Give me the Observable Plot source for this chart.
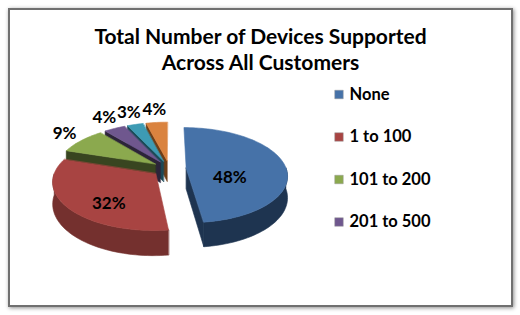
<!DOCTYPE html>
<html><head><meta charset="utf-8">
<script src="https://cdn.jsdelivr.net/npm/d3@7"></script>
<script src="https://cdn.jsdelivr.net/npm/@observablehq/plot@0.6"></script>
<style>
html,body{margin:0;padding:0;background:#fff;width:520px;height:315px;overflow:hidden}
#frame{position:absolute;left:8px;top:8px;width:501px;height:295px;border:2px solid #707070;box-shadow:1px 1px 4px rgba(0,0,0,0.45);background:#fff}
#chart{position:absolute;left:0;top:0}
</style></head><body>
<div id="frame"></div><div id="chart"></div>
<script>
const titleLines = ["Total Number of Devices Supported", "Across All Customers"];
const categories = ["None", "1 to 100", "101 to 200", "201 to 500", "501 to 1000", "Over 1000"];
const percents = [48, 32, 9, 4, 3, 4];
const topColors = ["#4672A8", "#A84442", "#8BA94E", "#6F578E", "#3D9BB4", "#DA833F"];
const wallColors = ["#1E3450", "#74302E", "#384520", "#2C2439", "#1B4A57", "#6E3E17"];
const legendCount = 4;

const W = 520, H = 315;
const cx = 168.7, cy = 168, rx = 100, ry = 46.6, depth = 21, persp = 0.15, explode = 0.17;
const FONT = "Lato, 'Open Sans', sans-serif";
const labelSize = 17;

function proj(u, v, z) {
  const s = 1 / (1 + persp * v);
  return {x: cx + rx * u * s, y: cy - ry * v * s + depth * z * s};
}

const total = d3.sum(percents);
let acc = 0;
const slices = percents.map((p, i) => {
  const a0 = acc / total * 2 * Math.PI;
  acc += p;
  const a1 = acc / total * 2 * Math.PI;
  const mid = (a0 + a1) / 2;
  return {i, p, a0, a1, mid, ou: explode * Math.sin(mid), ov: explode * Math.cos(mid)};
});

function arcPts(s, b0, b1, z, r = 1) {
  const n = Math.max(2, Math.ceil(Math.abs(b1 - b0) / (Math.PI / 90)));
  const pts = [];
  for (let k = 0; k <= n; k++) {
    const a = b0 + (b1 - b0) * k / n;
    pts.push(proj(s.ou + r * Math.sin(a), s.ov + r * Math.cos(a), z));
  }
  return pts;
}

const marks = [];
function poly(pts, color) {
  marks.push(Plot.line(pts, {x: "x", y: "y", fill: color, stroke: color, strokeWidth: 0.6, curve: "linear-closed"}));
}

const order = [...slices].sort((a, b) => b.ov - a.ov);
for (const s of order) {
  const c = proj(s.ou, s.ov, 0), cb = proj(s.ou, s.ov, 1);
  const walls = [[s.a0, s.a0 - Math.PI / 2], [s.a1, s.a1 + Math.PI / 2]];
  for (const [a, nrm] of walls) {
    if (Math.cos(nrm) < -0.01) {
      const e0 = proj(s.ou + Math.sin(a), s.ov + Math.cos(a), 0);
      const e1 = proj(s.ou + Math.sin(a), s.ov + Math.cos(a), 1);
      poly([c, e0, e1, cb], wallColors[s.i]);
    }
  }
  const b0 = Math.max(s.a0, Math.PI / 2), b1 = Math.min(s.a1, 3 * Math.PI / 2);
  if (b1 > b0) {
    poly([...arcPts(s, b0, b1, 0), ...arcPts(s, b1, b0, 1)], wallColors[s.i]);
  }
  poly([c, ...arcPts(s, s.a0, s.a1, 0)], topColors[s.i]);
}

// data labels: inside at the sector centroid, outside just beyond the rim
const labels = slices.map(s => {
  const th = s.a1 - s.a0;
  const text = s.p + "%";
  if (s.p >= 10) {
    const r = 4 * Math.sin(th / 2) / (3 * th);
    const pt = proj(s.ou + r * Math.sin(s.mid), s.ov + r * Math.cos(s.mid), 0.5);
    return {text, x: pt.x, y: pt.y};
  }
  const r = 1.12;
  const pt = proj(s.ou + r * Math.sin(s.mid), s.ov + r * Math.cos(s.mid), 0);
  const hw = text.length * labelSize * 0.3, hh = labelSize * 0.5;
  return {text, x: pt.x + Math.sin(s.mid) * hw, y: pt.y - Math.cos(s.mid) * hh};
});
marks.push(Plot.text(labels, {x: "x", y: "y", text: "text", fontFamily: FONT, fontWeight: "bold", fontSize: labelSize, fill: "#000"}));

// title
marks.push(Plot.text(titleLines, {x: () => 260, y: (d, i) => 37 + i * 26, text: d => d, fontFamily: FONT, fontWeight: "bold", fontSize: 21, fill: "#000"}));

// legend
const legend = categories.slice(0, legendCount).map((c, i) => ({c, i}));
marks.push(Plot.dot(legend, {x: () => 338.5, y: d => 94 + d.i * 42.5, symbol: "square", r: 4.8, fill: d => topColors[d.i], stroke: "#9a9a9a", strokeWidth: 0.5}));
marks.push(Plot.text(legend, {x: () => 349, y: d => 94 + d.i * 42.5, text: "c", textAnchor: "start", fontFamily: FONT, fontWeight: "bold", fontSize: 16.5, fill: "#000"}));

const chart = Plot.plot({
  width: W, height: H, margin: 0,
  x: {domain: [0, W], range: [0, W], axis: null},
  y: {domain: [0, H], range: [0, H], axis: null},
  color: {type: "identity"},
  style: {background: "transparent", overflow: "visible"},
  marks
});
document.getElementById("chart").appendChild(chart);
</script>
</body></html>
